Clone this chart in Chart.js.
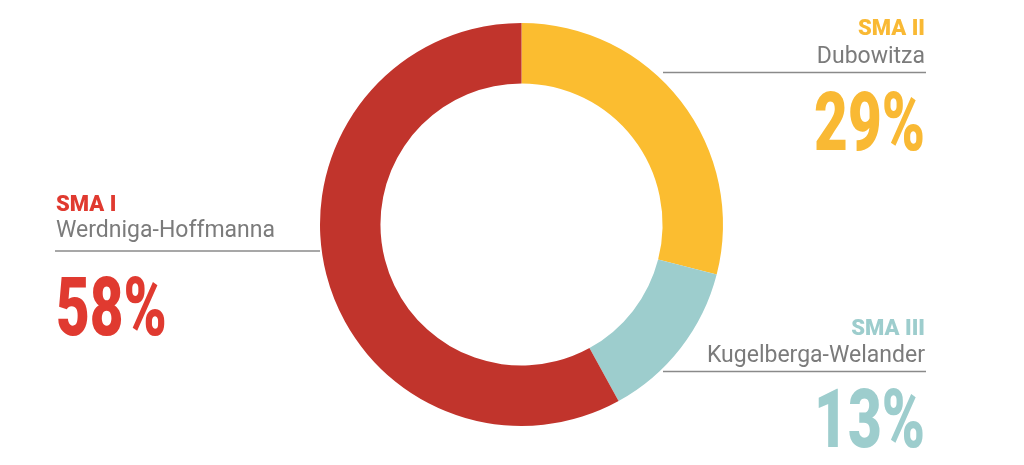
<!DOCTYPE html>
<html>
<head>
<meta charset="utf-8">
<script src="https://cdn.jsdelivr.net/npm/chart.js@4/dist/chart.umd.min.js"></script>
<style>
  html, body { margin: 0; padding: 0; background: #fff; }
  #wrap { position: relative; width: 1024px; height: 465px; }
</style>
</head>
<body>
<div id="wrap"><canvas id="sma-chart" width="1024" height="465"></canvas></div>
<script>
// ------ data ------
var categories = ['SMA II', 'SMA III', 'SMA I'];
var subtitles = ['Dubowitza', 'Kugelberga-Welander', 'Werdniga-Hoffmanna'];
var shares = [29, 13, 58];
var ringColors = ['#fbbd30', '#9dcdcd', '#c1342c'];
var textColors = ['#f9b934', '#9dcdcd', '#e03a30'];

// label blocks: where each callout sits (x anchor, baselines, leader line)
var callouts = [
    { align: 'right', x: 925, titleY: 35, subY: 62.5, lineY: 72.5, lineFrom: 663, lineTo: 926, pctY: 150 },
    { align: 'right', x: 925, titleY: 335, subY: 362, lineY: 371.5, lineFrom: 663, lineTo: 926, pctY: 447 },
    { align: 'left', x: 56, titleY: 211, subY: 237, lineY: 251, lineFrom: 55, lineTo: 320, pctY: 335 }
];

var calloutPlugin = {
    id: 'callouts',
    afterDraw: function(chart) {
        var ctx = chart.ctx;
        ctx.save();
        callouts.forEach(function(c, i) {
            ctx.textAlign = c.align;
            ctx.textBaseline = 'alphabetic';

            ctx.fillStyle = textColors[i];
            ctx.font = '900 22px Roboto';
            ctx.fillText(categories[i], c.x, c.titleY);

            ctx.fillStyle = '#7b7b7b';
            ctx.font = '23px Roboto';
            ctx.fillText(subtitles[i], c.x, c.subY);

            ctx.strokeStyle = '#8a8a8a';
            ctx.lineWidth = 1.5;
            ctx.beginPath();
            ctx.moveTo(c.lineFrom, c.lineY);
            ctx.lineTo(c.lineTo, c.lineY);
            ctx.stroke();

            // condensed percentage
            ctx.save();
            ctx.translate(c.x, c.pctY);
            ctx.scale(0.72, 1);
            ctx.fillStyle = textColors[i];
            ctx.font = '900 81px Roboto';
            ctx.fillText(shares[i] + '%', 0, 0);
            ctx.restore();
        });
        ctx.restore();
    }
};

new Chart(document.getElementById('sma-chart'), {
    type: 'doughnut',
    data: {
        labels: categories,
        datasets: [{
            data: shares,
            backgroundColor: ringColors,
            borderWidth: 0
        }]
    },
    options: {
        responsive: false,
        animation: false,
        cutout: '70%',
        layout: { padding: { top: 23, bottom: 39, left: 320, right: 301 } },
        plugins: {
            legend: { display: false },
            tooltip: { enabled: false }
        }
    },
    plugins: [calloutPlugin]
});
</script>
</body>
</html>
